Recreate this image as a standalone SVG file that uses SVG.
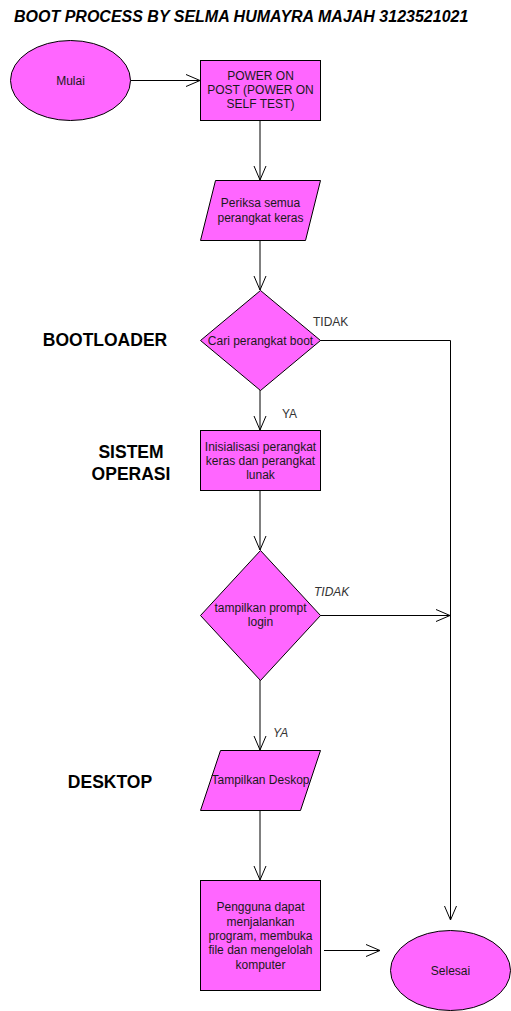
<svg xmlns="http://www.w3.org/2000/svg" width="511" height="1011" viewBox="0 0 511 1011">
<style>
.shape{fill:#FF66FF;stroke:#000;stroke-width:1}
.t{font-family:"Liberation Sans",Arial,sans-serif;font-size:12px;fill:#1a1a1a;text-anchor:middle}
.lbl{font-family:"Liberation Sans",Arial,sans-serif;font-size:12px;fill:#333}
.sec{font-family:"Liberation Sans",Arial,sans-serif;font-size:17.5px;font-weight:bold;fill:#000;text-anchor:middle}
.c{fill:none;stroke:#000;stroke-width:1}
</style>
<defs>
<marker id="open" viewBox="0 0 16 14" refX="15" refY="7" markerWidth="16" markerHeight="14" markerUnits="userSpaceOnUse" orient="auto">
<path d="M1,1 L15,7 L1,13" fill="none" stroke="#000" stroke-width="1"/>
</marker>
</defs>
<rect width="511" height="1011" fill="#fff"/>
<text x="14" y="22" font-family="'Liberation Sans',Arial,sans-serif" font-size="16" font-weight="bold" font-style="italic" fill="#000">BOOT PROCESS BY SELMA HUMAYRA MAJAH 3123521021</text>

<g id="labels">
<text class="sec" x="105" y="346">BOOTLOADER</text>
<text class="sec" x="131" y="458">SISTEM</text>
<text class="sec" x="131" y="480">OPERASI</text>
<text class="sec" x="110" y="788">DESKTOP</text>
</g>

<g id="connectors">
<path class="c" d="M130.5,80.5 L200,80.5" marker-end="url(#open)"/>
<path class="c" d="M260,120 L260,180" marker-end="url(#open)"/>
<path class="c" d="M260,240 L260,290" marker-end="url(#open)"/>
<path class="c" d="M320,340.5 L450.5,340.5 L450.5,920" marker-end="url(#open)"/>
<text class="lbl" x="313" y="326">TIDAK</text>
<path class="c" d="M260,390 L260,430" marker-end="url(#open)"/>
<text class="lbl" x="282" y="418">YA</text>
<path class="c" d="M260,490 L260,550" marker-end="url(#open)"/>
<path class="c" d="M320,615.5 L450,615.5" marker-end="url(#open)"/>
<text class="lbl" x="314" y="596" font-style="italic">TIDAK</text>
<path class="c" d="M260,680 L260,750" marker-end="url(#open)"/>
<text class="lbl" x="273" y="737" font-style="italic">YA</text>
<path class="c" d="M260,810 L260,880" marker-end="url(#open)"/>
<path class="c" d="M324,950.5 L380,950.5" marker-end="url(#open)"/>
</g>

<g id="mulai">
<ellipse class="shape" cx="70.5" cy="80.5" rx="60" ry="40"/>
<text class="t" x="70.5" y="84.5">Mulai</text>
</g>

<g id="post">
<rect class="shape" x="200.5" y="60.5" width="120" height="60"/>
<text class="t" x="260.5" y="80">POWER ON</text>
<text class="t" x="260.5" y="94">POST (POWER ON</text>
<text class="t" x="260.5" y="108">SELF TEST)</text>
</g>

<g id="periksa">
<polygon class="shape" points="215.5,180.5 320.5,180.5 305.5,240.5 200.5,240.5"/>
<text class="t" x="260.5" y="207">Periksa semua</text>
<text class="t" x="260.5" y="222">perangkat keras</text>
</g>

<g id="cari">
<polygon class="shape" points="260.5,290.5 320.5,340.5 260.5,390.5 200.5,340.5"/>
<text class="t" x="260.5" y="344.5">Cari perangkat boot</text>
</g>

<g id="inisialisasi">
<rect class="shape" x="200.5" y="430.5" width="120" height="60"/>
<text class="t" x="260.5" y="451">Inisialisasi perangkat</text>
<text class="t" x="260.5" y="465">keras dan perangkat</text>
<text class="t" x="260.5" y="479">lunak</text>
</g>

<g id="prompt">
<polygon class="shape" points="260.5,550.5 320.5,615.5 260.5,680.5 200.5,615.5"/>
<text class="t" x="260.5" y="612">tampilkan prompt</text>
<text class="t" x="260.5" y="626">login</text>
</g>

<g id="deskop">
<polygon class="shape" points="220.5,750.5 320.5,750.5 300.5,810.5 200.5,810.5"/>
<text class="t" x="260.5" y="784">Tampilkan Deskop</text>
</g>

<g id="pengguna">
<rect class="shape" x="200.5" y="880.5" width="120" height="110"/>
<text class="t" x="260.5" y="911">Pengguna dapat</text>
<text class="t" x="260.5" y="925.5">menjalankan</text>
<text class="t" x="260.5" y="940">program, membuka</text>
<text class="t" x="260.5" y="954">file dan mengelolah</text>
<text class="t" x="260.5" y="968.5">komputer</text>
</g>

<g id="selesai">
<ellipse class="shape" cx="450.5" cy="970.5" rx="60" ry="40"/>
<text class="t" x="450.5" y="974.5">Selesai</text>
</g>
</svg>
